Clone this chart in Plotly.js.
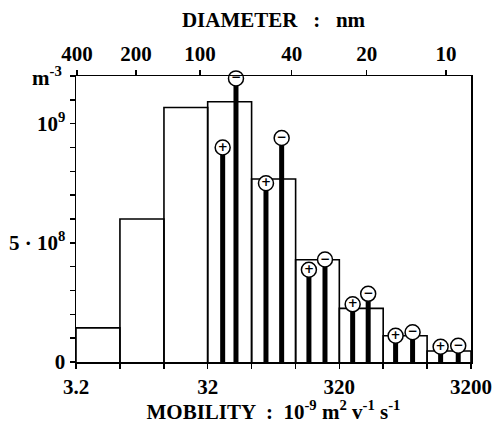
<!DOCTYPE html>
<html>
<head>
<meta charset="utf-8">
<script src="https://cdn.plot.ly/plotly-3.0.1.min.js"></script>
<style>html,body{margin:0;padding:0;background:#fff;}</style>
</head>
<body>
<div id="chart" style="width:494px;height:424px;"></div>
<script>
// Histogram bins (mobility, 1e-9 m2 V-1 s-1) and total concentration (m^-3)
const binEdges = [3.2, 6.9, 14.9, 32, 69, 149, 320, 689, 1485, 3200];
const binConc = [1.43e8, 6.0e8, 1.068e9, 1.092e9, 7.68e8, 4.29e8, 2.25e8, 1.1e8, 4.6e7];

// Positive ions
const posMobility = [41.6, 88.7, 188, 404, 856, 1881];
const posConc = [9.0e8, 7.5e8, 3.87e8, 2.42e8, 1.1e8, 6.4e7];
// Negative ions
const negMobility = [52.5, 116.7, 249, 530, 1152, 2559];
const negConc = [1.19e9, 9.4e8, 4.3e8, 2.86e8, 1.25e8, 6.8e7];

// Bottom axis labels (mobility)
const mobilityTickVals = [3.2, 32, 320, 3200];
const mobilityTickLabels = ['3.2', '32', '320', '3200'];
// Top axis: diameter labels (nm) and their positions on the mobility scale
const diameterLabels = ['400', '200', '100', '40', '20', '10'];
const diameterAtMobility = [3.25, 9.13, 28.0, 139, 516, 2063];

// y-axis labels
const yTickVals = [0, 5e8, 1e9];
const yTickText = ['0', '5 \u00b7 10<sup>8</sup>', '10<sup>9</sup>'];

const FONT = 'Liberation Serif, Times New Roman, serif';

// Build histogram outline
const hx = [], hy = [];
for (let i = 0; i < binConc.length; i++) {
  hx.push(binEdges[i], binEdges[i], binEdges[i + 1], binEdges[i + 1], null);
  hy.push(0, binConc[i], binConc[i], 0, null);
}

const histTrace = {
  type: 'scatter', mode: 'lines', x: hx, y: hy,
  line: {color: '#000', width: 1.6}, hoverinfo: 'skip', showlegend: false,
  cliponaxis: false
};

function ionTrace(xs, ys, sign) {
  return {
    type: 'scatter', mode: 'markers+text', x: xs, y: ys,
    text: xs.map(() => sign),
    textposition: 'middle center',
    textfont: {family: 'DejaVu Sans, sans-serif', size: 12, color: '#000', weight: 'bold'},
    marker: {symbol: 'circle', size: 15, color: '#fff', line: {color: '#000', width: 1.5}},
    error_y: {type: 'data', symmetric: false, array: ys.map(() => 0), arrayminus: ys,
              thickness: 5, width: 0, color: '#000'},
    cliponaxis: false, showlegend: false, hoverinfo: 'skip'
  };
}

const dummyTop = {
  type: 'scatter', mode: 'lines', x: [binEdges[0], binEdges[binEdges.length - 1]], y: [0, 0],
  line: {color: 'rgba(0,0,0,0)', width: 0},
  xaxis: 'x2', yaxis: 'y', showlegend: false, hoverinfo: 'skip'
};

const lo = Math.log10(binEdges[0]), hi = Math.log10(binEdges[binEdges.length - 1]);

const layout = {
  width: 494, height: 424,
  margin: {l: 76, r: 23, t: 76, b: 62},
  paper_bgcolor: '#fff', plot_bgcolor: '#fff',
  font: {family: FONT, size: 21, color: '#000', weight: 'bold'},
  showlegend: false,
  xaxis: {
    type: 'log', range: [lo, hi],
    tickmode: 'array', tickvals: mobilityTickVals, ticktext: mobilityTickLabels,
    ticks: 'outside', ticklen: 5, tickwidth: 1.5, tickcolor: '#000',
    minor: {tickmode: 'array', tickvals: binEdges, ticks: 'outside', ticklen: 5, tickwidth: 1.5, tickcolor: '#000', showgrid: false},
    showline: true, linecolor: '#000', linewidth: 1.5,
    showgrid: false, zeroline: false,
    tickfont: {family: FONT, size: 21, weight: 'bold'},
    title: {text: 'MOBILITY  :  10<sup>-9</sup> m<sup>2</sup> v<sup>-1</sup> s<sup>-1</sup>',
            font: {family: FONT, size: 21, weight: 'bold'}, standoff: 3}
  },
  xaxis2: {
    type: 'log', range: [lo, hi], overlaying: 'x', side: 'top', anchor: 'y',
    tickmode: 'array', tickvals: diameterAtMobility, ticktext: diameterLabels,
    ticks: 'outside', ticklen: 5, tickwidth: 1.5, tickcolor: '#000',
    showline: true, linecolor: '#000', linewidth: 1.5,
    showgrid: false, zeroline: false,
    tickfont: {family: FONT, size: 21, weight: 'bold'},
    title: {text: 'DIAMETER   :   nm', font: {family: FONT, size: 21, weight: 'bold'}, standoff: 8}
  },
  yaxis: {
    range: [0, 1.2e9],
    tickmode: 'array', tickvals: yTickVals, ticktext: yTickText,
    ticks: 'outside', ticklen: 5, tickwidth: 1.5, tickcolor: '#000',
    minor: {tickmode: 'linear', tick0: 0, dtick: 1e8, ticks: 'outside', ticklen: 5, tickwidth: 1.5, tickcolor: '#000', showgrid: false},
    showline: true, linecolor: '#000', linewidth: 1.5, mirror: true,
    showgrid: false, zeroline: false,
    tickfont: {family: FONT, size: 21, weight: 'bold'}
  },
  annotations: [{
    xref: 'paper', yref: 'y', x: 0, y: 1.2e9, xanchor: 'right', yanchor: 'middle',
    xshift: -12, text: 'm<sup>-3</sup>', showarrow: false,
    font: {family: FONT, size: 21, weight: 'bold'}
  }]
};

Plotly.newPlot('chart', [histTrace, ionTrace(posMobility, posConc, '+'), ionTrace(negMobility, negConc, '\u2212'), dummyTop], layout, {displayModeBar: false, staticPlot: true});
</script>
</body>
</html>
